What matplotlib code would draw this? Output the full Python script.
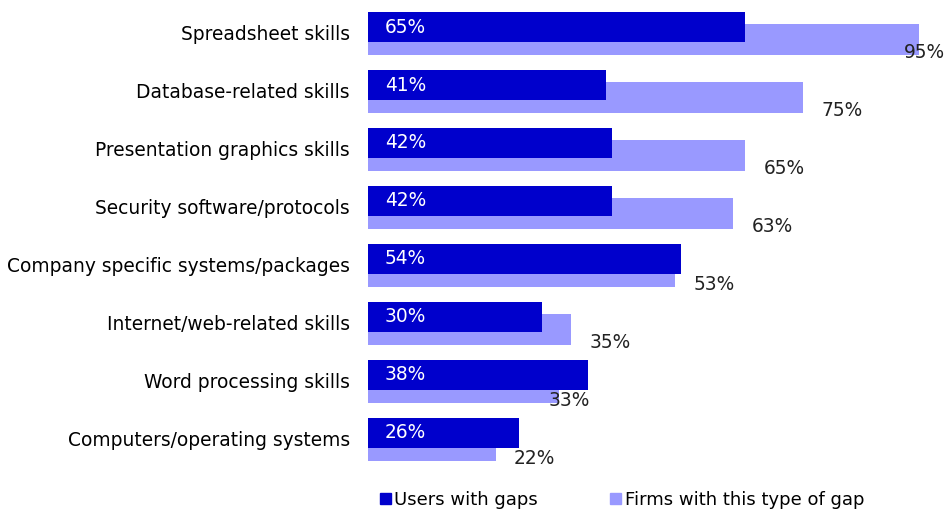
import matplotlib
matplotlib.use("Agg")
import matplotlib.pyplot as plt
from matplotlib.patches import Patch
import numpy as np

# Chart data
categories = ["Spreadsheet skills", "Database-related skills", "Presentation graphics skills",
              "Security software/protocols", "Company specific systems/packages",
              "Internet/web-related skills", "Word processing skills",
              "Computers/operating systems"]
users_with_gaps = [65, 41, 42, 42, 54, 30, 38, 26]
firms_with_gap = [95, 75, 65, 63, 53, 35, 33, 22]

dark = "#0000CC"
light = "#9999FF"
fs = 13.4

fig = plt.figure(figsize=(9.49, 5.14), dpi=100)
ax = fig.add_axes([368 / 949, 1 - 470 / 514, 581 / 949, 470 / 514])

y = np.arange(len(categories))
offset = 0.215

# Light bars behind, shifted down
ax.barh(y + offset, firms_with_gap, height=0.53, color=light, zorder=1)
# Dark bars on top
ax.barh(y, users_with_gaps, height=0.52, color=dark, zorder=2)

ax.set_xlim(0, 100.2)
ax.set_ylim(7.64, -0.466)

# White labels inside dark bars
for yi, v in zip(y, users_with_gaps):
    ax.text(2.9, yi, f"{v}%", color="white", fontsize=fs, va="center", ha="left", zorder=3)

# Black labels to the right of light bars
for yi, v in zip(y, firms_with_gap):
    x = v + 3.2
    if v == 33:
        x = v - 1.9          # reference puts this one overlapping the bar end
    x = min(x, 92.4)         # keep the biggest label inside the figure
    ax.text(x, yi + offset + 0.23, f"{v}%", color="#222222", fontsize=fs,
            va="center", ha="left", zorder=3)

ax.set_yticks(y + 0.1)
ax.set_yticklabels(categories, fontsize=fs)
ax.tick_params(axis="y", length=0, pad=13)
ax.set_xticks([])
for s in ax.spines.values():
    s.set_visible(False)

handles = [Patch(color=dark, label="Users with gaps"),
           Patch(color=light, label="Firms with this type of gap")]
fig.legend(handles=handles, loc="center", bbox_to_anchor=(622 / 949, 1 - 500 / 514),
           ncol=2, frameon=False, fontsize=13, handlelength=0.6, handleheight=0.6,
           handletextpad=0.2, columnspacing=4.0)

fig.savefig("out.png", dpi=100)
